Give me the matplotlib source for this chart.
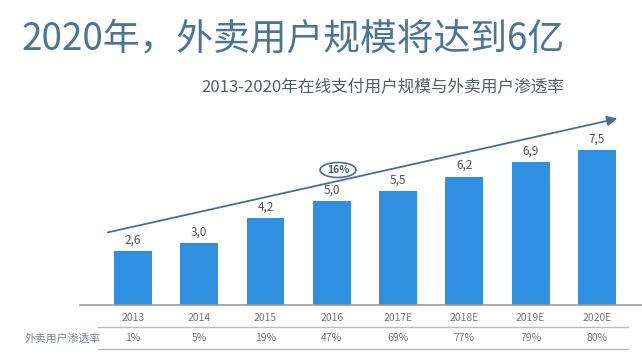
import matplotlib
matplotlib.use("Agg")
import matplotlib.pyplot as plt
from matplotlib.patches import Ellipse, FancyArrowPatch
from matplotlib.lines import Line2D
import matplotlib.transforms as mtransforms

plt.rcParams['font.family'] = ['Noto Sans CJK SC', 'DejaVu Sans']

years = ["2013", "2014", "2015", "2016", "2017E", "2018E", "2019E", "2020E"]
users = [2.6, 3.0, 4.2, 5.0, 5.5, 6.2, 6.9, 7.5]
user_labels = ["2,6", "3,0", "4,2", "5,0", "5,5", "6,2", "6,9", "7,5"]
penetration = ["1%", "5%", "19%", "47%", "69%", "77%", "79%", "80%"]
growth_label = "16%"
title = "2020年，外卖用户规模将达到6亿"
subtitle = "2013-2020年在线支付用户规模与外卖用户渗透率"
row_label = "外卖用户渗透率"

W, H = 642, 353
fig = plt.figure(figsize=(W/100, H/100), dpi=100)
fig.patch.set_facecolor("white")

def fx(px): return px / W
def fy(py): return 1 - py / H

# axes spanning px x 80..642, y 110..305
ax = fig.add_axes([fx(80), fy(305), fx(642) - fx(80), fy(110) - fy(305)])
x = list(range(len(years)))
ax.bar(x, users, width=0.57, color="#2f8fe0")
ax.set_xlim(-0.80, 7.68)
ax.set_ylim(0, 9.42)
for s in ["top", "right", "left"]:
    ax.spines[s].set_visible(False)
ax.spines["bottom"].set_color("#9a9a9a")
ax.spines["bottom"].set_linewidth(1.2)
ax.set_yticks([])
ax.set_xticks([])
for xi, v, lab in zip(x, users, user_labels):
    ax.text(xi, v + 0.22, lab, ha="center", va="bottom", fontsize=8.5, color="#555555")

trans = mtransforms.blended_transform_factory(ax.transData, fig.transFigure)
for xi, y in zip(x, years):
    ax.text(xi, fy(318), y, transform=trans, ha="center", va="center", fontsize=7.5, color="#777777")
for xi, p in zip(x, penetration):
    ax.text(xi, fy(338), p, transform=trans, ha="center", va="center", fontsize=7.5, color="#777777")

fig.text(fx(63), fy(338), row_label, ha="center", va="center", fontsize=7.8, color="#7a8a99")
fig.add_artist(Line2D([fx(98), fx(628)], [fy(327), fy(327)], color="#bbbbbb", lw=1.0))
fig.add_artist(Line2D([fx(98), fx(628)], [fy(349), fy(349)], color="#bbbbbb", lw=1.0))

# arrow
arr = FancyArrowPatch((fx(105), fy(233)), (fx(620), fy(118)), transform=fig.transFigure,
                      arrowstyle="-|>,head_length=6,head_width=3", color="#4a6f8f", lw=1.3)
fig.add_artist(arr)
ell = Ellipse((fx(338), fy(170)), fx(36), 15/H, transform=fig.transFigure,
              facecolor="white", edgecolor="#4a6f8f", lw=1.2)
fig.add_artist(ell)
fig.text(fx(338), fy(170), growth_label, ha="center", va="center", fontsize=7.5,
         color="#3d5f7d", fontweight="bold")

fig.text(fx(22), fy(40), title, ha="left", va="center", fontsize=26.5, color="#4a7595")
fig.text(fx(383), fy(87), subtitle, ha="center", va="center", fontsize=12, color="#555f66")

fig.savefig("out.png", dpi=100)
